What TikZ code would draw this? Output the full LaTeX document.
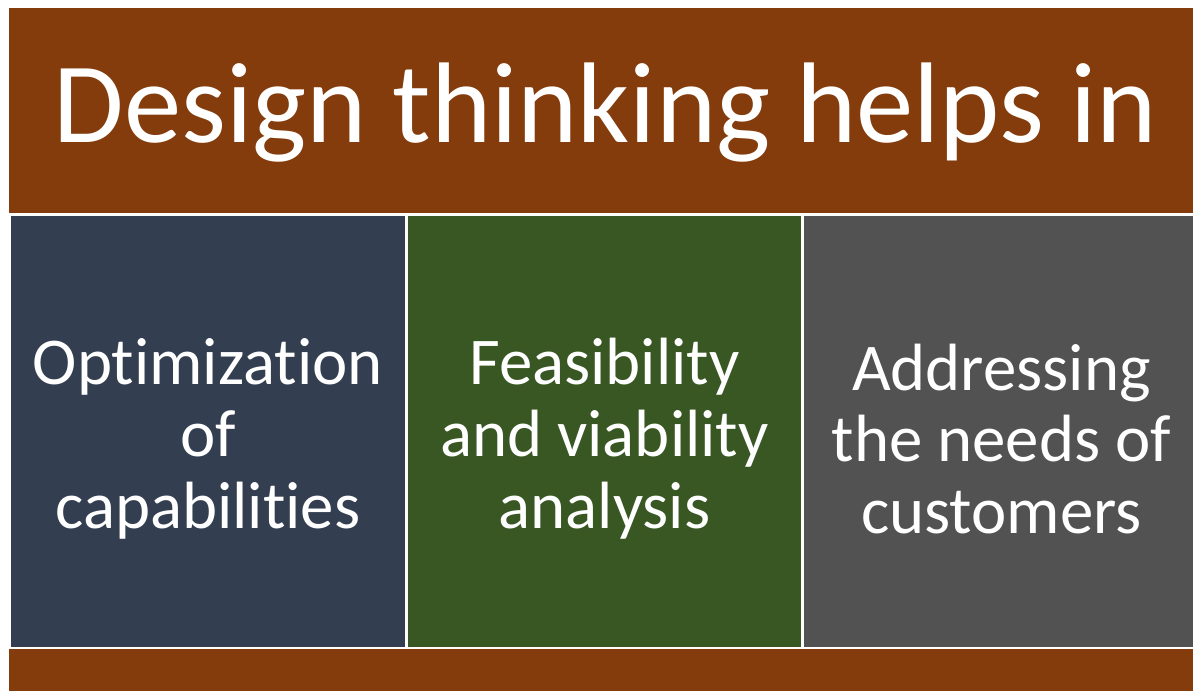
\documentclass[tikz,border=0pt]{standalone}
\usepackage{fontspec}
\setmainfont{Carlito}[Ligatures=NoCommon]
\usepackage{xcolor}
\usepackage{tikz}
\definecolor{bannerbrown}{RGB}{132, 60, 12}
\definecolor{slateblue}{RGB}{51, 63, 80}
\definecolor{leafgreen}{RGB}{56, 87, 35}
\definecolor{darkgray}{RGB}{82, 82, 82}
\tikzset{
    boxtext/.style={text=white, align=flush center, text width=390pt, inner sep=0pt,
        font=\fontsize{67}{72}\selectfont}
}

\begin{document}
\begin{tikzpicture}[x=1pt, y=-1pt]
    % Canvas
    \fill[white] (0,0) rectangle (1196,693);

    % Banner on top and strip at the bottom
    \fill[bannerbrown] (9,8) rectangle (1196,214);
    \fill[bannerbrown] (9,651) rectangle (1196,693);

    % Three columns
    \fill[slateblue] (11,217) rectangle (406,649);
    \fill[leafgreen] (409,217) rectangle (803,649);
    \fill[darkgray] (806,217) rectangle (1196,649);

    % Title
    \node[text=white, inner sep=0pt, anchor=base, font=\fontsize{115}{138}\selectfont]
        (title) at (607,143) {Design thinking helps in};

    % Column texts
    \node[boxtext] (optim) at (208.5,440) {Optimization\\of\\capabilities};
    \node[boxtext] (feasib) at (606,440) {Feasibility\\and viability\\analysis};
    \node[boxtext] (needs) at (1004,440) {Addressing\\the needs of\\customers};
\end{tikzpicture}
\end{document}
